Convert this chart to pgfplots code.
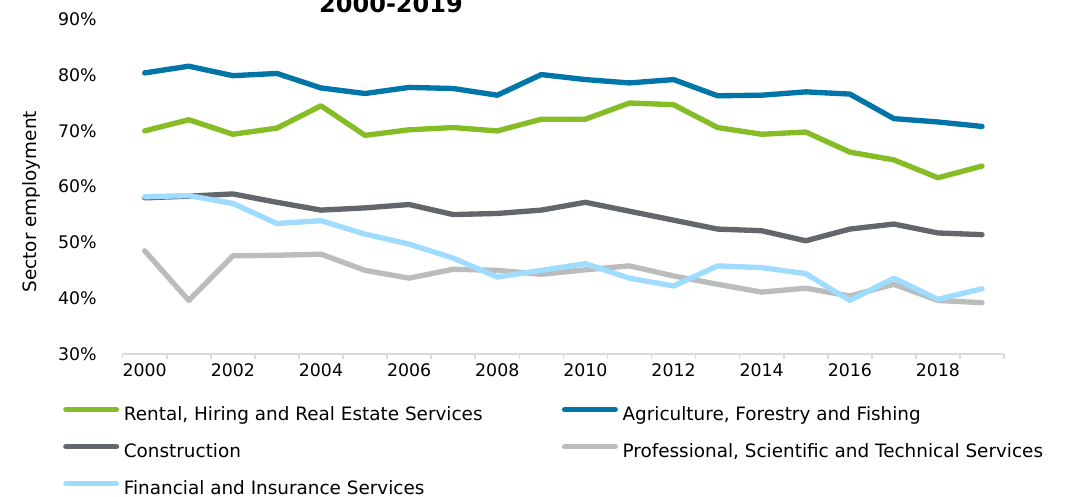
\documentclass[border=0pt]{standalone}
\usepackage{fontspec}
\setmainfont{DejaVu Sans}
\usepackage{pgfplots}
\pgfplotsset{compat=1.18}
\definecolor{cgreen}{HTML}{86BC25}
\definecolor{cblue}{HTML}{0076A8}
\definecolor{cdgray}{HTML}{63666A}
\definecolor{clgray}{HTML}{BBBCBC}
\definecolor{clblue}{HTML}{A0DCFF}
\definecolor{caxis}{HTML}{D9D9D9}

\begin{document}
\begin{tikzpicture}
\begin{axis}[
  scale only axis, width=661pt, height=251pt,
  xmin=1999.5, xmax=2019.5, ymin=30, ymax=90,
  axis x line*=bottom, axis y line*=left,
  y axis line style={draw=none},
  x axis line style={caxis, line width=1.2pt},
  xtick={1999.5,2000.5,2001.5,2002.5,2003.5,2004.5,2005.5,2006.5,2007.5,2008.5,2009.5,2010.5,2011.5,2012.5,2013.5,2014.5,2015.5,2016.5,2017.5,2018.5,2019.5},
  xticklabels={},
  x tick style={caxis, line width=1.2pt},
  tick align=outside, major tick length=4pt,
  extra x ticks={2000,2002,2004,2006,2008,2010,2012,2014,2016,2018},
  extra x tick labels={2000,2002,2004,2006,2008,2010,2012,2014,2016,2018},
  extra x tick style={major tick length=0pt},
  ytick={30,40,50,60,70,80,90},
  yticklabels={30\%,40\%,50\%,60\%,70\%,80\%,90\%},
  y tick style={draw=none},
  ticklabel style={font=\fontsize{13}{15}\selectfont, text=black},
  yticklabel style={xshift=-12pt},
  xticklabel style={yshift=-4pt},
  ylabel={Sector employment},
  every axis y label/.style={at={(axis description cs:-0.103,0.455)}, rotate=90, anchor=center, font=\fontsize{13.8}{16}\selectfont},
  title={2000-2019},
  every axis title/.style={at={(axis description cs:0.3044,1.019)}, anchor=base, font=\bfseries\fontsize{18}{20}\selectfont},
  every axis plot/.append style={line width=4pt, line join=round, line cap=round},
  legend columns=2,
  legend cell align=left,
  legend image code/.code={\draw[#1, line cap=round] (0pt,5pt) -- (38pt,5pt);},
  legend style={at={(axis description cs:-0.0678,-0.1574)}, anchor=north west,
    draw=none, fill=none, inner sep=0pt, row sep=13.75pt,
    font=\fontsize{13.8}{16}\selectfont,
    nodes={inner sep=0.5pt, text height=10pt, text depth=3pt},
    /tikz/every odd column/.append style={column sep=3pt},
    /tikz/every even column/.append style={column sep=59pt}},
]
\addplot[cgreen] coordinates {
(2000,70.0) (2001,72.0) (2002,69.4) (2003,70.5) (2004,74.5) (2005,69.2) (2006,70.2) (2007,70.6) (2008,70.0) (2009,72.1)
(2010,72.1) (2011,75.0) (2012,74.7) (2013,70.6) (2014,69.4) (2015,69.8) (2016,66.2) (2017,64.8) (2018,61.6) (2019,63.7)};
\addlegendentry{Rental, Hiring and Real Estate Services}
\addplot[cblue] coordinates {
(2000,80.4) (2001,81.6) (2002,79.9) (2003,80.3) (2004,77.7) (2005,76.7) (2006,77.8) (2007,77.6) (2008,76.4) (2009,80.1)
(2010,79.2) (2011,78.6) (2012,79.2) (2013,76.3) (2014,76.4) (2015,77.0) (2016,76.6) (2017,72.2) (2018,71.6) (2019,70.8)};
\addlegendentry{Agriculture, Forestry and Fishing}
\addplot[cdgray] coordinates {
(2000,58.0) (2001,58.3) (2002,58.7) (2003,57.2) (2004,55.8) (2005,56.2) (2006,56.8) (2007,55.0) (2008,55.2) (2009,55.8)
(2010,57.2) (2011,55.6) (2012,54.0) (2013,52.4) (2014,52.1) (2015,50.3) (2016,52.4) (2017,53.3) (2018,51.7) (2019,51.4)};
\addlegendentry{Construction}
\addplot[clgray] coordinates {
(2000,48.5) (2001,39.6) (2002,47.6) (2003,47.7) (2004,47.9) (2005,45.0) (2006,43.6) (2007,45.2) (2008,45.0) (2009,44.3)
(2010,45.1) (2011,45.8) (2012,44.0) (2013,42.5) (2014,41.1) (2015,41.8) (2016,40.4) (2017,42.5) (2018,39.6) (2019,39.2)};
\addlegendentry{Professional, Scientific and Technical Services}
\addplot[clblue] coordinates {
(2000,58.2) (2001,58.4) (2002,57.0) (2003,53.4) (2004,53.9) (2005,51.5) (2006,49.7) (2007,47.2) (2008,43.8) (2009,45.0)
(2010,46.2) (2011,43.6) (2012,42.2) (2013,45.8) (2014,45.5) (2015,44.4) (2016,39.6) (2017,43.6) (2018,39.8) (2019,41.7)};
\addlegendentry{Financial and Insurance Services}
\end{axis}
\pgfresetboundingbox
\path[use as bounding box] (-92.0pt,-106.5pt) rectangle (717.2pt,265.5pt);
\end{tikzpicture}
\end{document}
